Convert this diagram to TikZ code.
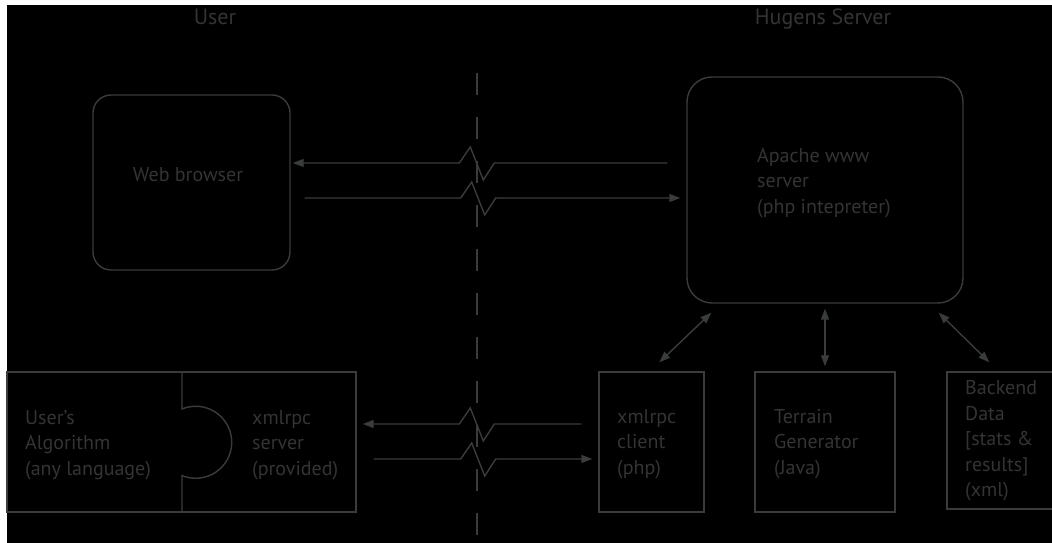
\documentclass[tikz,border=0pt]{standalone}
\usepackage{fontspec}
\setmainfont{PT Sans}
\usetikzlibrary{arrows.meta,positioning,calc}
\definecolor{linegray}{RGB}{58,60,60}
\definecolor{textgray}{RGB}{52,52,52}

\begin{document}
\begin{tikzpicture}[
        x=1pt, y=1pt,
        >={Triangle[length=11pt,width=8pt]},
        wire/.style={draw=linegray, line width=1.4pt},
        roundbox/.style={wire, rectangle, rounded corners=#1},
        sqbox/.style={wire, rectangle},
        txt/.style={text=textgray, font=\fontsize{20}{25.5}\selectfont, align=left, inner sep=0pt},
        title/.style={text=textgray, font=\fontsize{22}{26}\selectfont, anchor=base, inner sep=0pt},
        msg/.style={wire, ->, line join=miter}
    ]
        % Background
        \fill[white] (0,0) rectangle (1052,543);
        \fill[black] (7,0) rectangle (1052,538);
        \useasboundingbox (0,0) rectangle (1052,543);

        % Titles
        \node[title] (usertitle) at (215,518) {User};
        \node[title] (hugenstitle) at (823,518) {Hugens Server};

        % Boxes
        \node[roundbox=18pt, minimum width=197pt, minimum height=175pt] (web) at (191.5,360.5) {};
        \node[roundbox=25pt, minimum width=276pt, minimum height=226pt] (apache) at (825,353) {};
        \node[sqbox, minimum width=349pt, minimum height=140pt] (pair) at (181.5,101) {};
        \node[sqbox, minimum width=105pt, minimum height=140pt] (client) at (651.5,101) {};
        \node[sqbox, minimum width=140pt, minimum height=140pt] (terrain) at (825,101) {};
        \node[sqbox, minimum width=125pt, minimum height=137pt] (backend) at (1009.5,102.5) {};

        % Texts
        \node[txt] (webtxt) at (188,368) {Web browser};
        \node[txt, anchor=west] (apachetxt) at (757,360) {Apache www\\server\\(php intepreter)};
        \node[txt, anchor=west] (algotxt) at (25,98) {User’s\\Algorithm\\(any language)};
        \node[txt, anchor=west] (servertxt) at (252,98) {xmlrpc\\server\\(provided)};
        \node[txt, anchor=west] (clienttxt) at (617,99) {xmlrpc\\client\\(php)};
        \node[txt, anchor=west] (terraintxt) at (774,99) {Terrain\\Generator\\(Java)};
        \node[txt, anchor=west] (backendtxt) at (965,102) {Backend\\Data\\{[}stats \&\\results{]}\\(xml)};

        % Socket between algorithm and server
        \coordinate (cut) at (182,0);
        \draw[wire] (pair.north -| cut) -- ++(0,-37.7) arc[start angle=112.4, end angle=-112.4, radius=36] -- (pair.south -| cut);

        % Network boundary
        \coordinate (edge) at (477,470);
        \draw[wire, dash pattern=on 22pt off 22pt] (edge) -- (edge |- 0,0);

        % Web traffic
        \draw[msg] ([shift={(-19,27)}]apache.west) -- ++(-173,0) -- ++(-11,-17) -- ++(-13,33) -- ++(-11,-16) -- ([shift={(2,19.5)}]web.east);
        \draw[msg] ([shift={(14,-15.5)}]web.east) -- ++(156,0) -- ++(11,16) -- ++(13,-33) -- ++(11,17) -- ([shift={(-6,-8)}]apache.west);

        % xmlrpc traffic
        \draw[msg] ([shift={(-17,18)}]client.west) -- ++(-87,0) -- ++(-11,-17) -- ++(-13,33) -- ++(-11,-16) -- ([shift={(6,18)}]pair.east);
        \draw[msg] ([shift={(17,-17)}]pair.east) -- ++(87,0) -- ++(11,16) -- ++(13,-33) -- ++(11,17) -- ([shift={(-6,-17)}]client.west);

        % Server side links
        \draw[wire, <->] ([shift={(25,-9)}]apache.south west) -- ([shift={(61,9)}]client.north west);
        \draw[wire, <->, shorten <=5pt, shorten >=5pt] (apache.south) -- (terrain.north);
        \draw[wire, <->] ([shift={(-25,-9)}]apache.south east) -- ([shift={(43,9)}]backend.north west);

    \end{tikzpicture}
\end{document}
